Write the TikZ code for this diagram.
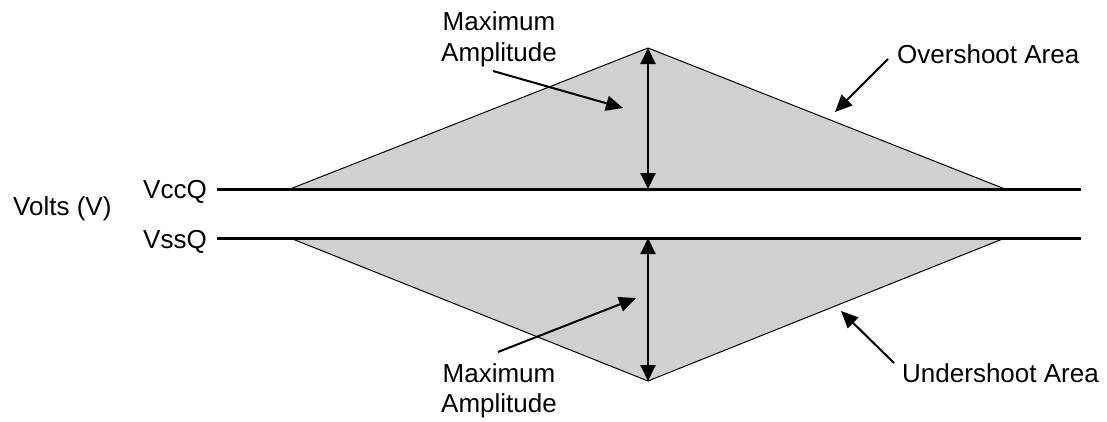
\documentclass[tikz,border=0pt]{standalone}
\usepackage{fontspec}
\setmainfont{Liberation Sans}
\usetikzlibrary{arrows.meta}
\definecolor{areagray}{RGB}{208,208,208}
\begin{document}
\begin{tikzpicture}[x=1pt,y=-1pt,
  lbl/.style={inner sep=0pt,font=\fontsize{26}{30}\selectfont},
  rail/.style={line width=3pt},
  area/.style={fill=areagray,draw=black,line width=1pt},
  pointer/.style={line width=2pt,-{Triangle[length=17pt,width=15pt]}},
  dblarrow/.style={line width=2pt,{Triangle[length=16pt,width=15pt]}-{Triangle[length=16pt,width=15pt]}}]
\useasboundingbox (0,0) rectangle (1107,421);
% coordinates
\coordinate (ulb) at (290,189);
\coordinate (uap) at (648,48);
\coordinate (urb) at (1005,189);
\coordinate (llb) at (290,238);
\coordinate (lap) at (648,381);
\coordinate (lrb) at (1005,238);
\coordinate (uv) at (648,189);
\coordinate (lv) at (648,238);
% areas
\fill[areagray] (ulb) -- (uap) -- (urb) -- cycle;
\draw[line width=1pt] (ulb) -- (uap) -- (urb);
\fill[areagray] (llb) -- (lap) -- (lrb) -- cycle;
\draw[line width=1pt] (llb) -- (lap) -- (lrb);
% rails
\coordinate (vccS) at (217,189);
\coordinate (vccE) at (1081,189);
\coordinate (vssS) at (217,238);
\coordinate (vssE) at (1081,238);
\draw[rail] (vccS) -- (vccE);
\draw[rail] (vssS) -- (vssE);
% amplitude arrows
\draw[dblarrow] (uv) -- (uap);
\draw[dblarrow] (lv) -- (lap);
% labels
\node[lbl,anchor=base west] (volts) at (13,215) {Volts (V)};
\node[lbl,anchor=base east] (vcc) at (207,198) {VccQ};
\node[lbl,anchor=base east] (vss) at (207,248) {VssQ};
\node[lbl,anchor=base] (max1) at (499,30) {Maximum};
\node[lbl,anchor=base] (amp1) at (499,61) {Amplitude};
\node[lbl,anchor=base] (max2) at (499,382) {Maximum};
\node[lbl,anchor=base] (amp2) at (499,412) {Amplitude};
\node[lbl,anchor=base west] (over) at (897,63) {Overshoot Area};
\node[lbl,anchor=base west] (under) at (902,382) {Undershoot Area};
% pointers
\coordinate (p1s) at (493,71);
\coordinate (p1t) at (623,108);
\coordinate (p2s) at (498,352);
\coordinate (p2t) at (636,298);
\coordinate (p3s) at (888,59);
\coordinate (p3t) at (835,112);
\coordinate (p4s) at (894,363);
\coordinate (p4t) at (841,311);
\draw[pointer] (p1s) -- (p1t);
\draw[pointer] (p2s) -- (p2t);
\draw[pointer] (p3s) -- (p3t);
\draw[pointer] (p4s) -- (p4t);
\end{tikzpicture}
\end{document}
